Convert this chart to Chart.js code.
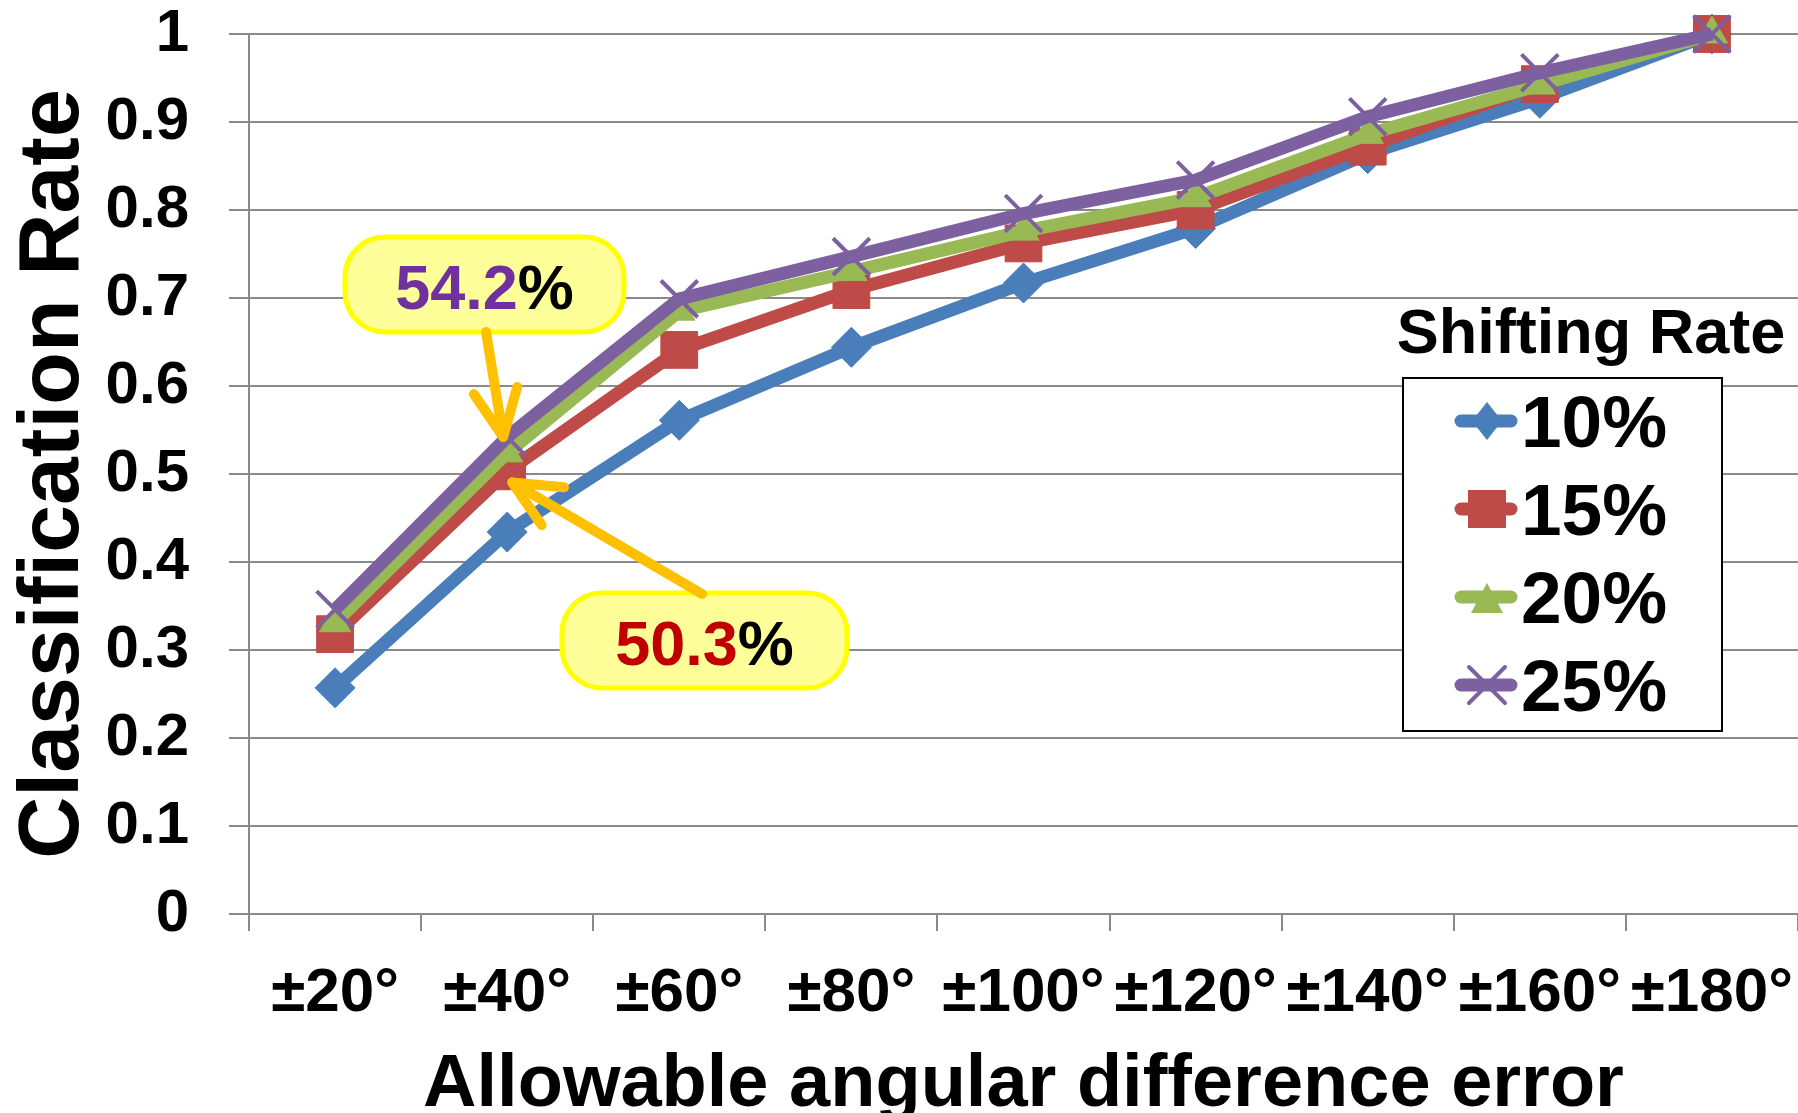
<!DOCTYPE html>
<html>
<head>
<meta charset="utf-8">
<script src="https://cdn.jsdelivr.net/npm/chart.js@4.4.0/dist/chart.umd.min.js"></script>
<style>
  html, body { margin: 0; padding: 0; background: #fff; }
  #wrap { width: 1798px; height: 1113px; }
</style>
</head>
<body>
<div id="wrap"><canvas id="rateChart" width="1798" height="1113"></canvas></div>
<script>
// categories (allowable angular error) and classification rate per shifting rate
const angles = ['±20°', '±40°', '±60°', '±80°', '±100°', '±120°', '±140°', '±160°', '±180°'];
const rate10 = [0.257, 0.434, 0.561, 0.644, 0.717, 0.779, 0.864, 0.927, 1.0];
const rate15 = [0.318, 0.503, 0.641, 0.709, 0.762, 0.800, 0.872, 0.943, 1.0];
const rate20 = [0.331, 0.524, 0.685, 0.730, 0.776, 0.814, 0.886, 0.942, 1.0];
const rate25 = [0.346, 0.542, 0.699, 0.747, 0.796, 0.834, 0.906, 0.956, 1.0];
const seriesNames = ['10%', '15%', '20%', '25%'];
const seriesColors = ['#4A7EBB', '#BE4B48', '#98B954', '#7D60A0'];

const FONT = "'Liberation Sans', Arial, sans-serif";
const GRID = '#8a8a8a';

Chart.defaults.font.family = FONT;
Chart.defaults.color = '#000';

function drawMarker(ctx, style, x, y, color) {
    ctx.save();
    ctx.fillStyle = color;
    ctx.strokeStyle = color;
    ctx.beginPath();
    if (style === 'rectRot') {
        ctx.moveTo(x, y - 19); ctx.lineTo(x + 15, y); ctx.lineTo(x, y + 19); ctx.lineTo(x - 15, y);
        ctx.closePath(); ctx.fill();
    } else if (style === 'rect') {
        ctx.rect(x - 19, y - 19, 38, 38); ctx.fill();
    } else if (style === 'triangle') {
        ctx.moveTo(x, y - 14); ctx.lineTo(x + 16, y + 16); ctx.lineTo(x - 16, y + 16);
        ctx.closePath(); ctx.fill();
    } else {
        ctx.lineWidth = 4;
        ctx.moveTo(x - 18, y - 18); ctx.lineTo(x + 18, y + 18);
        ctx.moveTo(x + 18, y - 18); ctx.lineTo(x - 18, y + 18);
        ctx.stroke();
    }
    ctx.restore();
}

// legend with a title and a framed box
const boxLegend = {
    id: 'boxLegend',
    afterDraw(chart) {
        const ctx = chart.ctx;
        ctx.save();
        ctx.fillStyle = '#fff';
        ctx.fillRect(1403, 378, 319, 353);
        ctx.strokeStyle = '#000';
        ctx.lineWidth = 2;
        ctx.strokeRect(1403, 378, 319, 353);
        ctx.fillStyle = '#000';
        ctx.font = 'bold 63px ' + FONT;
        ctx.textAlign = 'center';
        ctx.textBaseline = 'alphabetic';
        ctx.fillText('Shifting Rate', 1591, 353);
        chart.data.datasets.forEach((ds, i) => {
            const cy = 421 + i * 88;
            ctx.strokeStyle = ds.borderColor;
            ctx.lineWidth = 13;
            ctx.lineCap = 'round';
            ctx.beginPath();
            ctx.moveTo(1461, cy);
            ctx.lineTo(1511, cy);
            ctx.stroke();
            drawMarker(ctx, ds.pointStyle, 1487, cy, ds.borderColor);
            ctx.fillStyle = '#000';
            ctx.font = 'bold 73px ' + FONT;
            ctx.textAlign = 'left';
            ctx.fillText(ds.label, 1521, 447 + i * 88);
        });
        ctx.restore();
    }
};

// yellow callouts with arrows pointing at the ±40° values
const callouts = [
    { value: '54.2', color: '#7030A0', box: [345, 237, 279, 95], from: [486, 332], ds: 3, idx: 1, off: [-4, 0] },
    { value: '50.3', color: '#C00000', box: [562, 593, 285, 95], from: [702, 594], ds: 1, idx: 1, off: [5, 11] }
];

const calloutPlugin = {
    id: 'callouts',
    afterDatasetsDraw(chart) {
        const ctx = chart.ctx;
        const xs = chart.scales.x, ys = chart.scales.y;
        ctx.save();
        callouts.forEach(c => {
            const [bx, by, bw, bh] = c.box;
            ctx.beginPath();
            ctx.roundRect(bx, by, bw, bh, 40);
            ctx.fillStyle = '#FFFF99';
            ctx.fill();
            ctx.lineWidth = 5;
            ctx.strokeStyle = '#FFFF00';
            ctx.stroke();

            const v = chart.data.datasets[c.ds].data[c.idx];
            const tx = xs.getPixelForValue(c.idx) + c.off[0];
            const ty = ys.getPixelForValue(v) + c.off[1];
            const ang = Math.atan2(c.from[1] - ty, c.from[0] - tx);
            ctx.strokeStyle = '#FFC000';
            ctx.lineWidth = 10;
            ctx.lineCap = 'round';
            ctx.beginPath();
            ctx.moveTo(c.from[0], c.from[1]);
            ctx.lineTo(tx, ty);
            [-1, 1].forEach(s => {
                const a = ang + s * 25 * Math.PI / 180;
                ctx.moveTo(tx, ty);
                ctx.lineTo(tx + 52 * Math.cos(a), ty + 52 * Math.sin(a));
            });
            ctx.stroke();

            ctx.font = 'bold 63px ' + FONT;
            ctx.textBaseline = 'alphabetic';
            ctx.textAlign = 'left';
            const w1 = ctx.measureText(c.value).width;
            const w2 = ctx.measureText('%').width;
            const x0 = bx + bw / 2 - (w1 + w2) / 2;
            const base = by + bh / 2 + 24;
            ctx.fillStyle = c.color;
            ctx.fillText(c.value, x0, base);
            ctx.fillStyle = '#000';
            ctx.fillText('%', x0 + w1, base);
        });
        ctx.restore();
    }
};

const styles = ['rectRot', 'rect', 'triangle', 'crossRot'];
const radii = [20, 26, 18, 26];
const seriesData = [rate10, rate15, rate20, rate25];

const ctx = document.getElementById('rateChart').getContext('2d');
const rateChart = new Chart(ctx, {
    type: 'line',
    data: {
        labels: angles,
        datasets: seriesData.map((d, i) => ({
            label: seriesNames[i],
            data: d,
            borderColor: seriesColors[i],
            backgroundColor: seriesColors[i],
            borderWidth: 13,
            pointStyle: styles[i],
            pointRadius: radii[i],
            pointBackgroundColor: seriesColors[i],
            pointBorderColor: seriesColors[i],
            pointBorderWidth: i === 3 ? 4 : 1,
            tension: 0,
            fill: false,
            clip: false,
            order: 3 - i
        }))
    },
    options: {
        responsive: false,
        animation: false,
        devicePixelRatio: 1,
        layout: { autoPadding: false, padding: { top: 34, right: 0, left: 0, bottom: 0 } },
        plugins: {
            legend: { display: false },
            tooltip: { enabled: false }
        },
        scales: {
            x: {
                offset: true,
                grid: { offset: true, drawOnChartArea: false, drawTicks: true, tickLength: 17, color: GRID, lineWidth: 2 },
                border: { display: true, color: GRID, width: 2 },
                ticks: {
                    font: { size: 62, weight: 'bold', lineHeight: 2.03 },
                    color: '#000', maxRotation: 0, minRotation: 0, autoSkip: false, padding: 0
                },
                title: {
                    display: true, text: 'Allowable angular difference error', color: '#000',
                    font: { size: 74, weight: 'bold', lineHeight: 0.75 }, padding: { top: 0, bottom: 0 }
                },
                afterFit: s => { s.height = 199; s.paddingLeft = 0; s.paddingRight = 0; }
            },
            y: {
                min: 0,
                max: 1,
                grid: { color: GRID, lineWidth: 2, tickLength: 20 },
                border: { display: true, color: GRID, width: 2 },
                ticks: {
                    stepSize: 0.1, font: { size: 60, weight: 'bold' }, color: '#000', padding: 40,
                    callback: v => String(+v.toFixed(1))
                },
                title: {
                    display: true, text: 'Classification Rate', color: '#000',
                    font: { size: 86, weight: 'bold', lineHeight: 1 }, padding: { top: 11, bottom: 0 }
                },
                afterFit: s => { s.width = 249; s.paddingTop = 0; s.paddingBottom = 0; }
            }
        }
    },
    plugins: [calloutPlugin, boxLegend]
});
</script>
</body>
</html>
